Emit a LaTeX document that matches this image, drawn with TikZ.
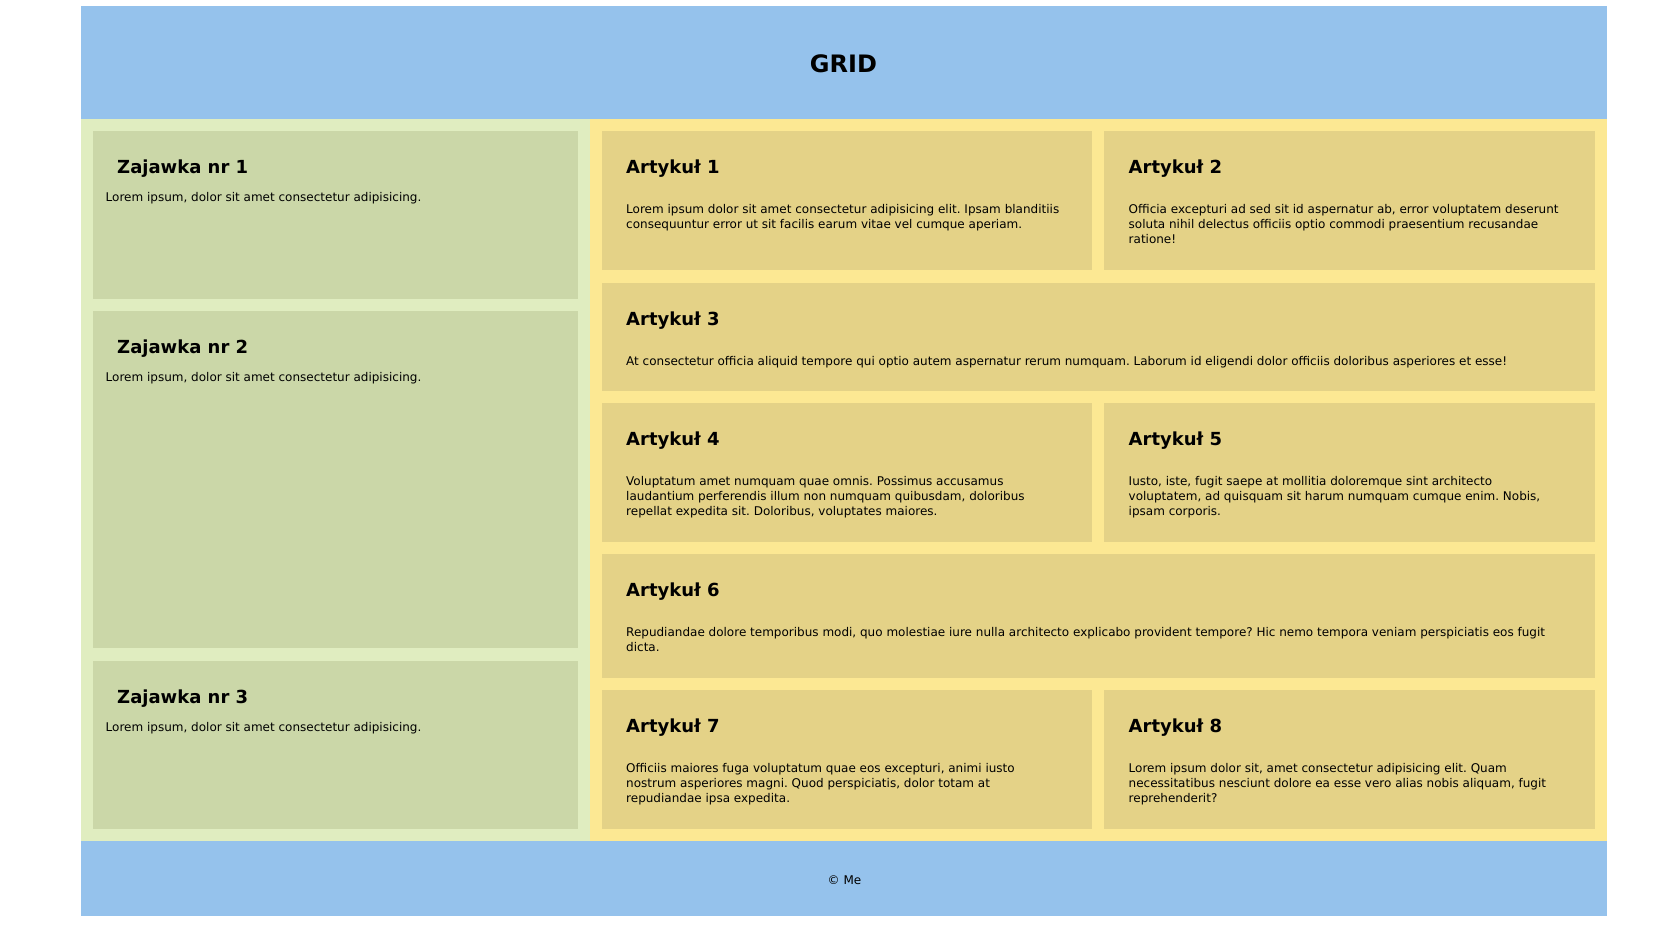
\documentclass[tikz,border=0pt]{standalone}
\usepackage{fontspec}
\setmainfont{DejaVu Sans}
\frenchspacing
\definecolor{hdr}{HTML}{95C2EC}
\definecolor{gbg}{HTML}{E0EDC0}
\definecolor{gbox}{HTML}{CBD7A8}
\definecolor{ybg}{HTML}{FCE893}
\definecolor{ybox}{HTML}{E4D287}
\newcommand\mylines[1]{\begin{tabular}[t]{@{}l@{}}#1\end{tabular}}
\begin{document}
\begin{tikzpicture}[x=1pt,y=-1pt,
  ttl/.style={anchor=base west, inner sep=0pt, font=\fontsize{18}{22}\selectfont\bfseries\frenchspacing},
  body/.style={anchor=base west, inner sep=0pt, font=\fontsize{12}{15}\selectfont\frenchspacing},
]
\useasboundingbox[fill=white] (0,0) rectangle (1678,935);
% regions
\fill[hdr] (81,6) rectangle (1607,119);
\fill[gbg] (81,119) rectangle (590,841);
\fill[ybg] (590,119) rectangle (1607,841);
\fill[hdr] (81,841) rectangle (1607,916);
% green boxes
\fill[gbox] (93,131) rectangle (578,298.7);
\fill[gbox] (93,311) rectangle (578,648);
\fill[gbox] (93,660.5) rectangle (578,829);
% article boxes
\fill[ybox] (602,131) rectangle (1092,270);
\fill[ybox] (1104,131) rectangle (1595,270);
\fill[ybox] (602,282.5) rectangle (1595,391);
\fill[ybox] (602,403) rectangle (1092,541.7);
\fill[ybox] (1104,403) rectangle (1595,541.7);
\fill[ybox] (602,554) rectangle (1595,678);
\fill[ybox] (602,690) rectangle (1092,829);
\fill[ybox] (1104,690) rectangle (1595,829);
% header / footer
\node[anchor=base, inner sep=0pt, font=\fontsize{24}{28}\selectfont\bfseries] (grid) at (843.5,72) {GRID};
\node[anchor=base, inner sep=0pt, font=\fontsize{12}{15}\selectfont] (foot) at (844.5,884) {© Me};
% zajawki
\node[ttl] (z1t) at (117,173.7) {Zajawka nr 1};
\node[body] (z1b) at (105.5,201.7) {Lorem ipsum, dolor sit amet consectetur adipisicing.};
\node[ttl] (z2t) at (117,353.7) {Zajawka nr 2};
\node[body] (z2b) at (105.5,381.7) {Lorem ipsum, dolor sit amet consectetur adipisicing.};
\node[ttl] (z3t) at (117,703.2) {Zajawka nr 3};
\node[body] (z3b) at (105.5,731.2) {Lorem ipsum, dolor sit amet consectetur adipisicing.};
% articles
\node[ttl] (a1t) at (626,173.7) {Artykuł 1};
\node[body] (a1b) at (626,213.7) {\mylines{Lorem ipsum dolor sit amet consectetur adipisicing elit. Ipsam blanditiis\\consequuntur error ut sit facilis earum vitae vel cumque aperiam.}};
\node[ttl] (a2t) at (1128.5,173.7) {Artykuł 2};
\node[body] (a2b) at (1128.5,213.7) {\mylines{Officia excepturi ad sed sit id aspernatur ab, error voluptatem deserunt\\soluta nihil delectus officiis optio commodi praesentium recusandae\\ratione!}};
\node[ttl] (a3t) at (626,325.2) {Artykuł 3};
\node[body] (a3b) at (626,365.2) {At consectetur officia aliquid tempore qui optio autem aspernatur rerum numquam. Laborum id eligendi dolor officiis doloribus asperiores et esse!};
\node[ttl] (a4t) at (626,445.7) {Artykuł 4};
\node[body] (a4b) at (626,485.7) {\mylines{Voluptatum amet numquam quae omnis. Possimus accusamus\\laudantium perferendis illum non numquam quibusdam, doloribus\\repellat expedita sit. Doloribus, voluptates maiores.}};
\node[ttl] (a5t) at (1128.5,445.7) {Artykuł 5};
\node[body] (a5b) at (1128.5,485.7) {\mylines{Iusto, iste, fugit saepe at mollitia doloremque sint architecto\\voluptatem, ad quisquam sit harum numquam cumque enim. Nobis,\\ipsam corporis.}};
\node[ttl] (a6t) at (626,596.7) {Artykuł 6};
\node[body] (a6b) at (626,636.7) {\mylines{Repudiandae dolore temporibus modi, quo molestiae iure nulla architecto explicabo provident tempore? Hic nemo tempora veniam perspiciatis eos fugit\\dicta.}};
\node[ttl] (a7t) at (626,732.7) {Artykuł 7};
\node[body] (a7b) at (626,772.7) {\mylines{Officiis maiores fuga voluptatum quae eos excepturi, animi iusto\\nostrum asperiores magni. Quod perspiciatis, dolor totam at\\repudiandae ipsa expedita.}};
\node[ttl] (a8t) at (1128.5,732.7) {Artykuł 8};
\node[body] (a8b) at (1128.5,772.7) {\mylines{Lorem ipsum dolor sit, amet consectetur adipisicing elit. Quam\\necessitatibus nesciunt dolore ea esse vero alias nobis aliquam, fugit\\reprehenderit?}};
\end{tikzpicture}
\end{document}
